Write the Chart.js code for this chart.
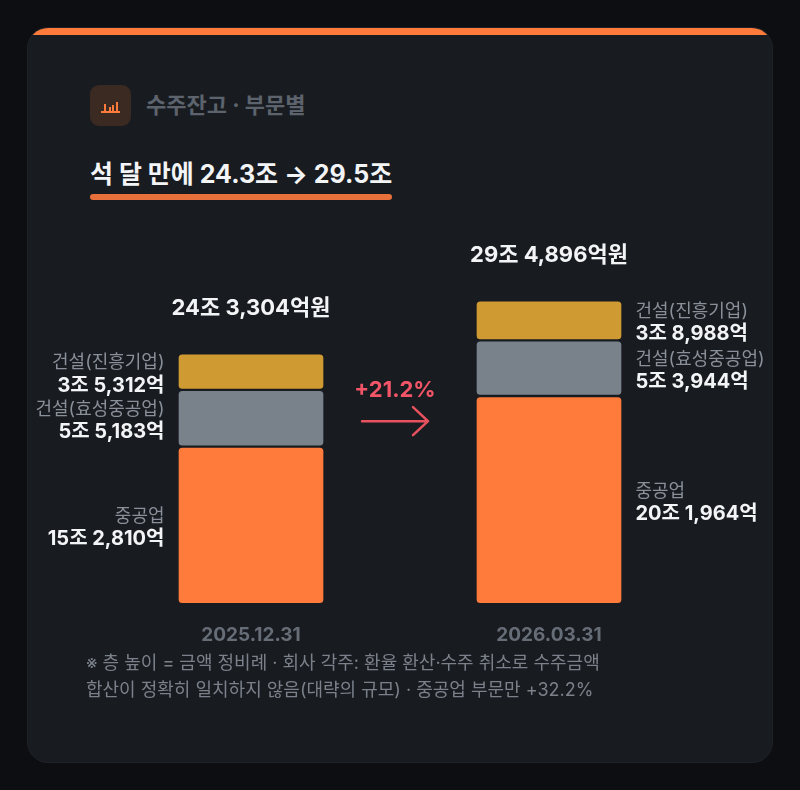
<!DOCTYPE html>
<html lang="ko">
<head>
<meta charset="utf-8">
<script src="https://cdn.jsdelivr.net/npm/chart.js@4.4.1/dist/chart.umd.min.js"></script>
<style>
html, body { margin: 0; padding: 0; background: #0c0e11; }
body { width: 800px; height: 790px; position: relative; overflow: hidden; font-family: Inter, "Noto Sans CJK KR", sans-serif; }
.card { position: absolute; left: 28px; top: 28px; width: 744px; height: 734px; background: #181b20; border-radius: 20px; overflow: hidden; box-shadow: 0 0 0 1px #1e2227; }
.card:before { content: ""; position: absolute; left: 0; top: 0; right: 0; height: 7px; background: #fe7b3b; }
.icon { position: absolute; left: 62px; top: 57px; width: 41px; height: 41px; border-radius: 9px; background: #3a2a22; }
.icon svg { position: absolute; left: 11px; top: 12px; }
.kicker { position: absolute; left: 118px; top: 64px; line-height: 26px; font-size: 22px; font-weight: 700; color: #5c636d; }
.headline { position: absolute; left: 62px; top: 131px; line-height: 30px; font-size: 25px; font-weight: 700; color: #f3f4f6; }
.headline .bar { position: absolute; left: 0; right: 0; top: 35px; height: 6px; border-radius: 3px; background: #e8703a; }
#chart { position: absolute; left: 0; top: 192px; }
.note { position: absolute; left: 58px; top: 622px; font-size: 18px; line-height: 26.5px; color: #7b818a; }
</style>
</head>
<body>
<div class="card">
  <div class="icon">
    <svg width="19" height="17" viewBox="0 0 19 17">
      <rect x="0" y="14" width="19" height="2" fill="#fe7b3b"/>
      <rect x="3" y="7" width="2" height="8" fill="#fe7b3b"/>
      <rect x="8" y="10" width="2" height="5" fill="#fe7b3b"/>
      <rect x="11" y="8" width="2" height="7" fill="#fe7b3b"/>
      <rect x="15" y="5" width="2" height="10" fill="#fe7b3b"/>
    </svg>
  </div>
  <div class="kicker">수주잔고 · 부문별</div>
  <div class="headline">석 달 만에 24.3조 → 29.5조<div class="bar"></div></div>
  <canvas id="chart" width="744" height="455"></canvas>
  <div class="note">※ 층 높이 = 금액 정비례 · 회사 각주: 환율 환산·수주 취소로 수주금액<br>합산이 정확히 일치하지 않음(대략의 규모) · 중공업 부문만 +32.2%</div>
</div>

<script>
// 단위: 억원
var dates = ['2025.12.31', '2026.03.31'];
var segments = ['중공업', '건설(효성중공업)', '건설(진흥기업)'];
var heavy = [152810, 201964];
var hyosung = [55183, 53944];
var jinheung = [35312, 38988];
var totals = [243304, 294896];

var FONT = 'Inter, "Noto Sans CJK KR", sans-serif';

function fmtEok(v) {
    var jo = Math.floor(v / 10000);
    var eok = v % 10000;
    return jo + '조 ' + eok.toLocaleString('en-US') + '억';
}

var labelPlugin = {
    id: 'segLabels',
    afterDatasetsDraw: function (chart) {
        var ctx = chart.ctx;
        ctx.save();
        ctx.textBaseline = 'middle';

        // segment labels beside each bar
        chart.data.datasets.forEach(function (ds, di) {
            var meta = chart.getDatasetMeta(di);
            meta.data.forEach(function (bar, i) {
                var p = bar.getProps(['x', 'y', 'base', 'width'], true);
                var cy = (p.y + p.base) / 2;
                var left = i === 0;
                var tx = left ? p.x - p.width / 2 - 13 : p.x + p.width / 2 + 13;
                ctx.textAlign = left ? 'right' : 'left';
                ctx.font = '18px ' + FONT;
                ctx.fillStyle = '#8a9099';
                ctx.fillText(ds.label, tx, cy - 9);
                ctx.font = 'bold 20px ' + FONT;
                ctx.fillStyle = '#f3f4f6';
                ctx.fillText(fmtEok(ds.data[i]), tx, cy + 14);
            });
        });

        // totals above each stack
        var topBars = chart.getDatasetMeta(chart.data.datasets.length - 1).data;
        ctx.textAlign = 'center';
        ctx.font = 'bold 22px ' + FONT;
        ctx.fillStyle = '#f3f4f6';
        topBars.forEach(function (bar, i) {
            ctx.fillText(fmtEok(totals[i]) + '원', bar.x, bar.y - 45);
        });

        // growth arrow between the bars
        var mid = (topBars[0].x + topBars[1].x) / 2 - 5;
        var bottom = chart.chartArea.bottom;
        var growth = (totals[1] / totals[0] - 1) * 100;
        ctx.fillStyle = '#f25567';
        ctx.font = 'bold 22px ' + FONT;
        ctx.fillText('+' + growth.toFixed(1) + '%', mid, bottom - 214);

        var ay = bottom - 183;
        ctx.strokeStyle = '#e8525f';
        ctx.lineWidth = 2.5;
        ctx.lineCap = 'round';
        ctx.lineJoin = 'round';
        ctx.beginPath();
        ctx.moveTo(mid - 33, ay);
        ctx.lineTo(mid + 33, ay);
        ctx.moveTo(mid + 18, ay - 14);
        ctx.lineTo(mid + 33, ay);
        ctx.lineTo(mid + 18, ay + 14);
        ctx.stroke();
        ctx.restore();
    }
};

var radius = { topLeft: 5, topRight: 5, bottomLeft: 5, bottomRight: 5 };

var ctx = document.getElementById('chart').getContext('2d');
var chart = new Chart(ctx, {
    type: 'bar',
    data: {
        labels: dates,
        datasets: [
            { label: segments[0], data: heavy, backgroundColor: '#fe7b3b' },
            { label: segments[1], data: hyosung, backgroundColor: '#79818b' },
            { label: segments[2], data: jinheung, backgroundColor: '#cf9a31' }
        ].map(function (d) {
            d.borderColor = '#181b20';
            d.borderWidth = 1.5;
            d.borderSkipped = false;
            d.borderRadius = radius;
            d.barThickness = 147;
            return d;
        })
    },
    options: {
        responsive: false,
        animation: false,
        layout: { padding: { left: 74, right: 74, top: 75, bottom: 8 } },
        plugins: {
            legend: { display: false },
            tooltip: { enabled: false }
        },
        scales: {
            x: {
                stacked: true,
                grid: { display: false, drawTicks: false },
                border: { display: false },
                ticks: { color: '#666d77', font: { size: 19, weight: 'bold', family: FONT }, padding: 20 }
            },
            y: { stacked: true, display: false, min: 0, max: 300000 }
        }
    },
    plugins: [labelPlugin]
});
</script>
</body>
</html>
